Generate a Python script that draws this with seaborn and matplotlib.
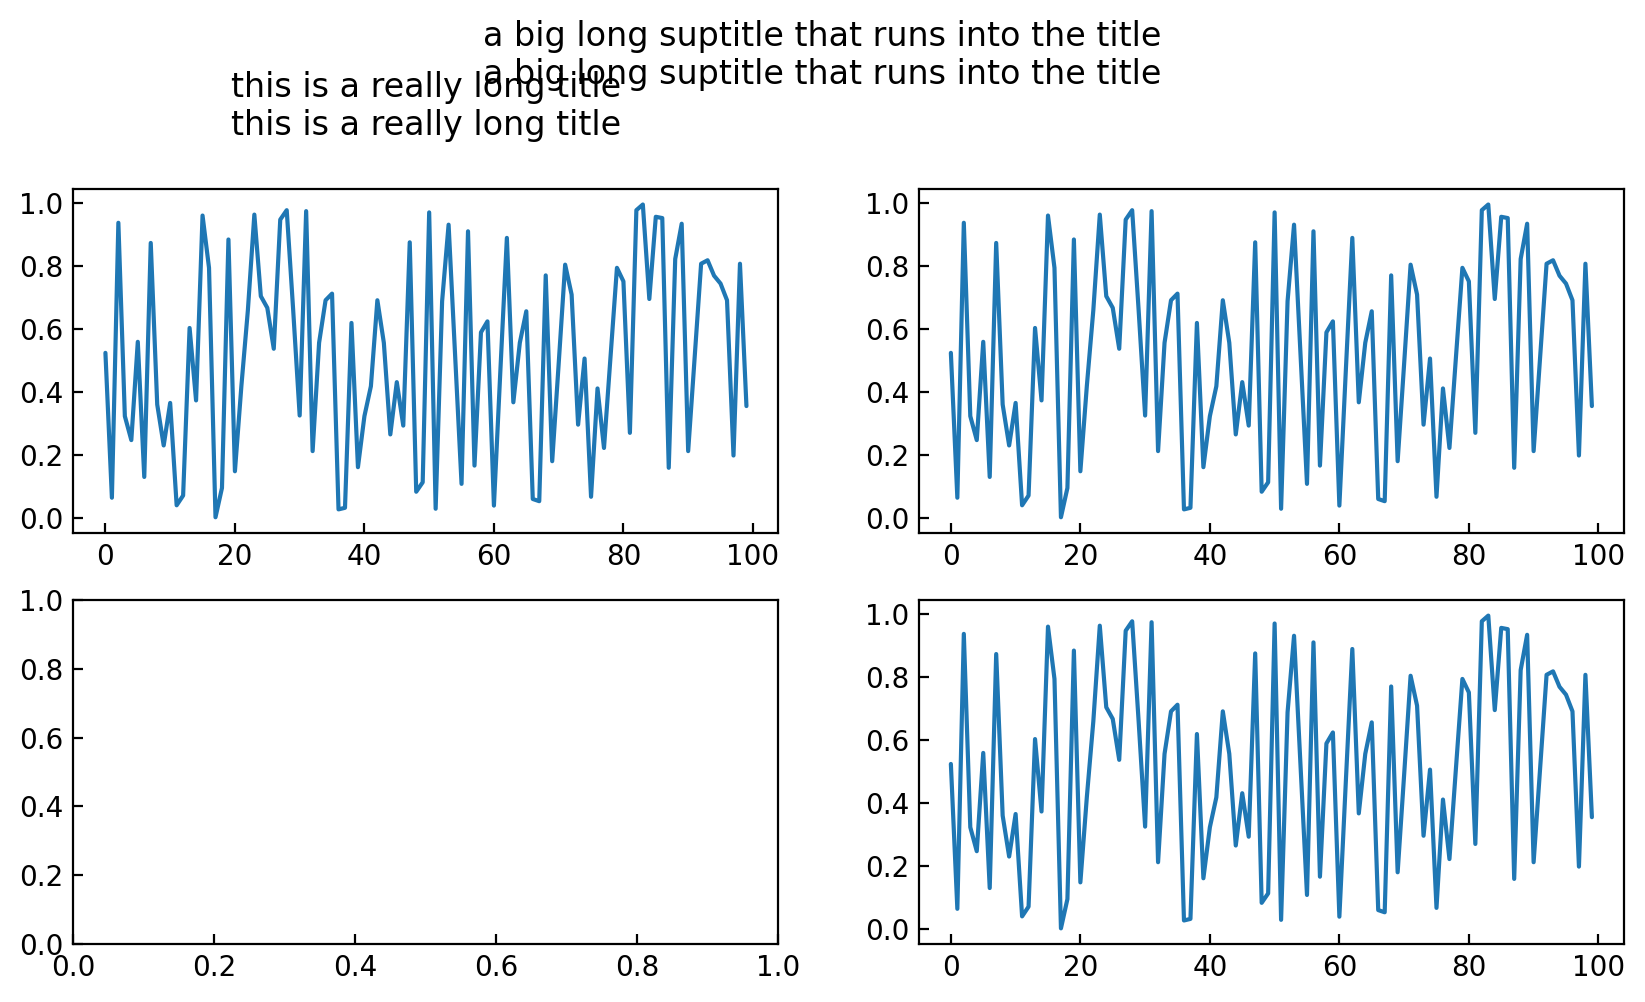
import numpy as np
import matplotlib
matplotlib.use('Agg')
import matplotlib.pyplot as plt
import seaborn as sns

# values (same series in the three filled panels)
values = [
    0.525, 0.065, 0.938, 0.324, 0.248, 0.560, 0.131, 0.874, 0.361, 0.231,
    0.366, 0.041, 0.072, 0.604, 0.374, 0.961, 0.795, 0.003, 0.096, 0.885,
    0.149, 0.420, 0.660, 0.964, 0.705, 0.668, 0.538, 0.948, 0.978, 0.660,
    0.326, 0.975, 0.213, 0.557, 0.692, 0.713, 0.028, 0.033, 0.620, 0.162,
    0.324, 0.419, 0.692, 0.557, 0.266, 0.432, 0.294, 0.876, 0.084, 0.114,
    0.971, 0.030, 0.689, 0.932, 0.520, 0.109, 0.911, 0.167, 0.590, 0.625,
    0.040, 0.470, 0.890, 0.368, 0.557, 0.657, 0.061, 0.054, 0.771, 0.181,
    0.490, 0.805, 0.710, 0.297, 0.507, 0.068, 0.412, 0.223, 0.510, 0.795,
    0.752, 0.271, 0.978, 0.996, 0.696, 0.957, 0.953, 0.160, 0.823, 0.935,
    0.213, 0.510, 0.808, 0.819, 0.770, 0.745, 0.692, 0.199, 0.808, 0.356,
]
index = list(range(len(values)))

title_text = 'this is a really long title\nthis is a really long title'
suptitle_text = ('a big long suptitle that runs into the title\n'
                 'a big long suptitle that runs into the title')

sns.set_style('white')
plt.rcParams['font.family'] = ['DejaVu Sans']
plt.rcParams['text.color'] = 'black'
plt.rcParams['axes.titlecolor'] = 'black'
plt.rcParams['xtick.direction'] = 'in'
plt.rcParams['ytick.direction'] = 'in'
plt.rcParams['xtick.bottom'] = True
plt.rcParams['ytick.left'] = True
plt.rcParams['axes.edgecolor'] = 'black'
plt.rcParams['axes.linewidth'] = 0.8
plt.rcParams['xtick.color'] = 'black'
plt.rcParams['ytick.color'] = 'black'
plt.rcParams['xtick.major.size'] = 3.5
plt.rcParams['ytick.major.size'] = 3.5
plt.rcParams['xtick.major.width'] = 0.8
plt.rcParams['ytick.major.width'] = 0.8
plt.rcParams['xtick.labelsize'] = 10
plt.rcParams['ytick.labelsize'] = 10

fig, axes = plt.subplots(2, 2, figsize=(8.225, 5.01), dpi=200)
fig.subplots_adjust(left=0.0446, right=0.9872, top=0.8115, bottom=0.0579,
                    wspace=0.199, hspace=0.195)

for ax in [axes[0, 0], axes[0, 1], axes[1, 1]]:
    sns.lineplot(x=index, y=values, ax=ax, color='#1f77b4', linewidth=1.5)
    ax.set_xlabel('')
    ax.set_ylabel('')

axes[1, 0].set_xlim(0, 1)
axes[1, 0].set_ylim(0, 1)

axes[0, 0].set_title(title_text, fontsize=12, y=1.108, color='black')
fig.suptitle(suptitle_text, fontsize=12, y=0.980, color='black')

plt.savefig('out.png', dpi=200)
